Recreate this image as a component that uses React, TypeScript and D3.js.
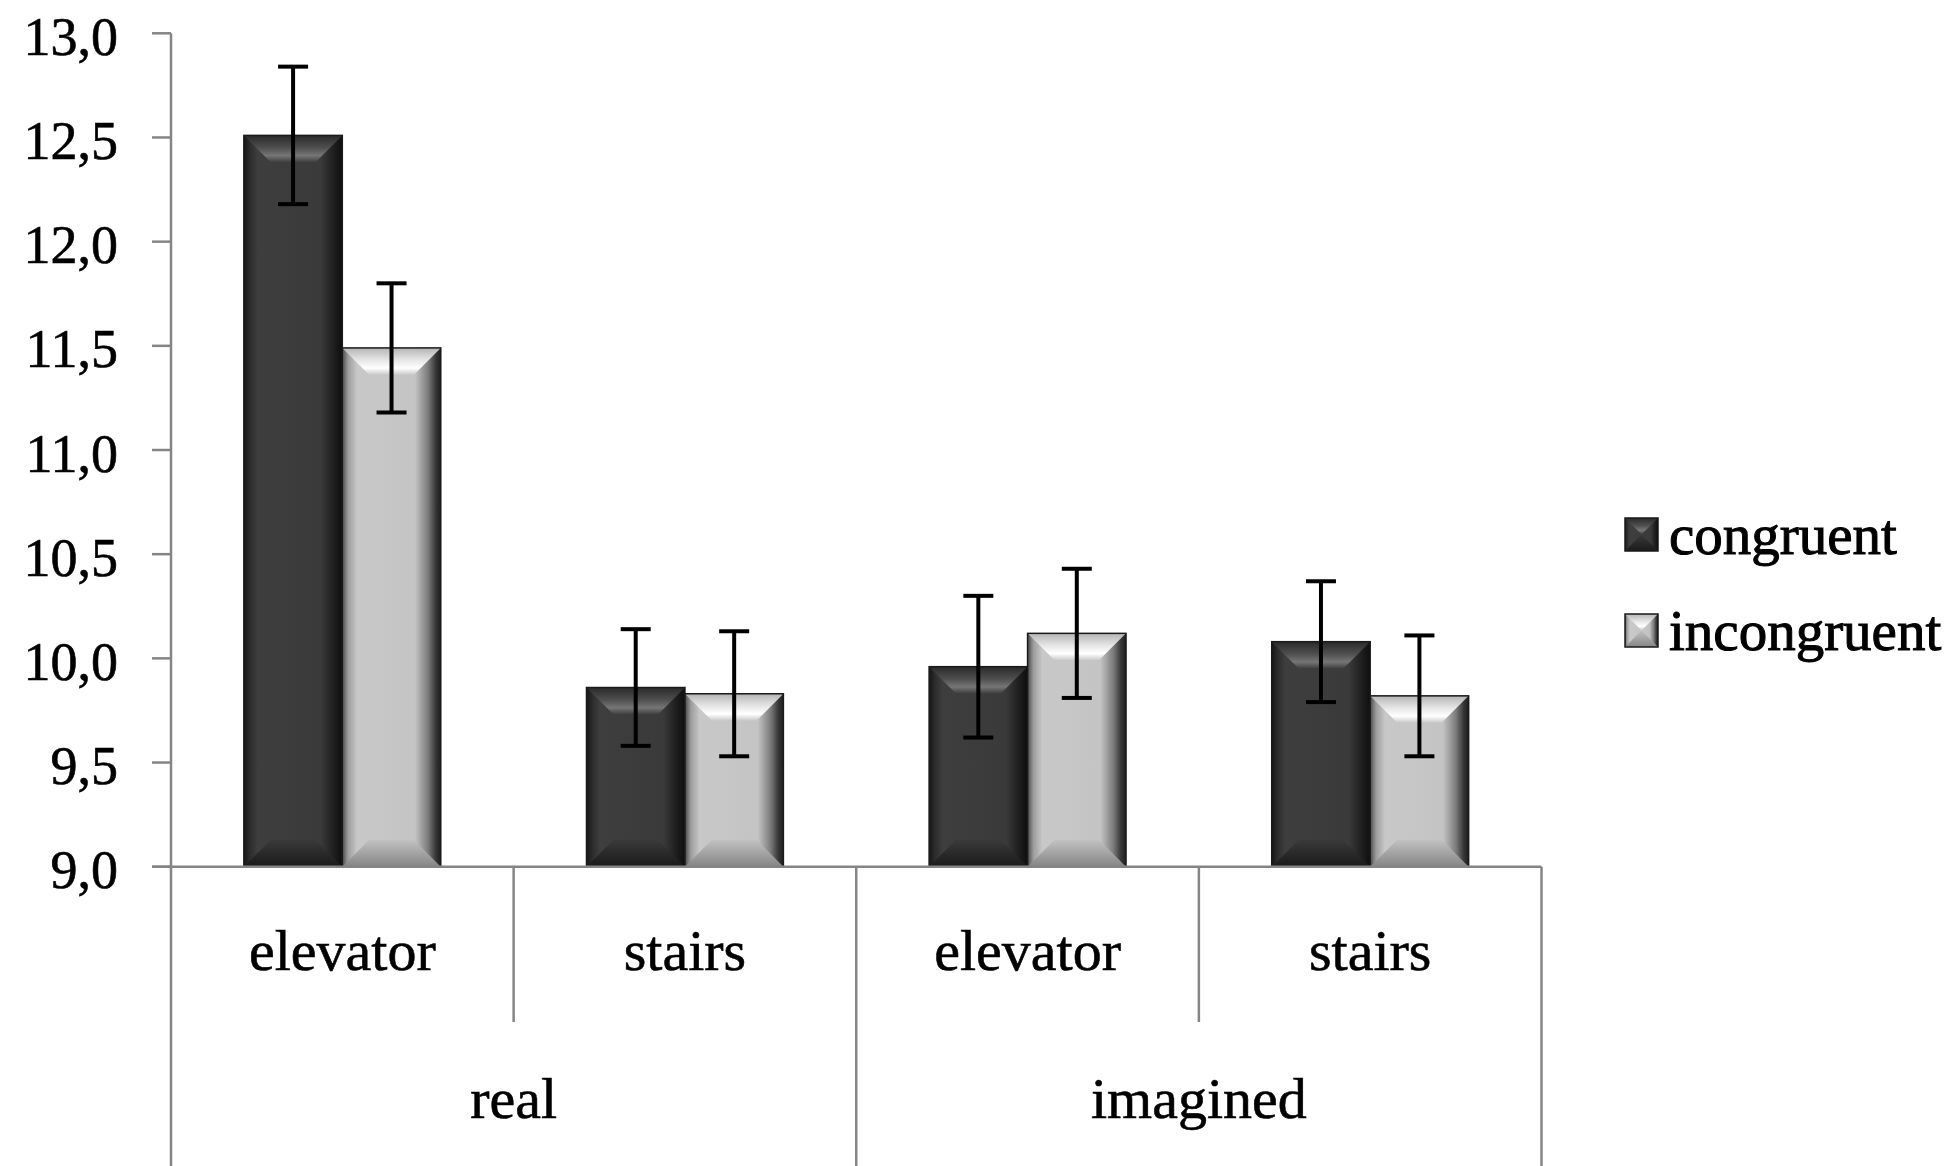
import React from "react";
import * as d3 from "d3";

const categories = ["elevator", "stairs", "elevator", "stairs"];
const groups = ["real", "imagined"];
const seriesNames = ["congruent", "incongruent"];
const congruentMeans = [12.51, 9.86, 9.96, 10.08];
const congruentErrors = [0.33, 0.28, 0.34, 0.29];
const incongruentMeans = [11.49, 9.83, 10.12, 9.82];
const incongruentErrors = [0.31, 0.3, 0.31, 0.29];
const yTicks = [9.0, 9.5, 10.0, 10.5, 11.0, 11.5, 12.0, 12.5, 13.0];

const W = 1954;
const H = 1166;
const FONT = "'Liberation Serif', 'Times New Roman', serif";

const series = [
  { name: seriesNames[0], kind: "dark", means: congruentMeans, errs: congruentErrors },
  { name: seriesNames[1], kind: "light", means: incongruentMeans, errs: incongruentErrors },
];

function Bar({ x, y, w, h, kind }) {
  const b = Math.min(27, h / 2);
  const top = `${x},${y} ${x + w},${y} ${x + w - b},${y + b} ${x + b},${y + b}`;
  const bot = `${x},${y + h} ${x + w},${y + h} ${x + w - b},${y + h - b} ${x + b},${y + h - b}`;
  return (
    <g>
      <rect x={x} y={y} width={w} height={h} fill={`url(#${kind}-h)`} />
      <polygon points={top} fill={`url(#${kind}-top)`} />
      <polygon points={bot} fill={`url(#${kind}-bot)`} />
      <rect x={x} y={y} width={w} height={h} fill="none" stroke="#1a1a1a" strokeWidth={1.5} />
    </g>
  );
}

export default function App() {
  const x0 = 171;
  const x1 = 1541.5;
  const yBase = 866.7;
  const yTop = 33.3;

  const y = d3.scaleLinear().domain([9, 13]).range([yBase, yTop]);
  const xCat = d3
    .scaleBand()
    .domain(d3.range(categories.length).map(String))
    .range([x0, x1])
    .paddingInner(0)
    .paddingOuter(0);
  const xSer = d3
    .scaleBand()
    .domain(seriesNames)
    .range([0, xCat.bandwidth()])
    .paddingInner(0)
    .paddingOuter(0.74);
  const xGroup = d3.scaleBand().domain(groups).range([x0, x1]);

  const fmt = (v) => v.toFixed(1).replace(".", ",");
  const axisColor = "#858585";
  const textStroke = { stroke: "#000", strokeWidth: 0.6 };

  return (
    <svg
      width={W}
      height={H}
      style={{ position: "absolute", left: 0, top: 0, background: "#fff", display: "block" }}
      fontFamily={FONT}
    >
      <defs>
        <linearGradient id="dark-h" x1="0" x2="1" y1="0" y2="0">
          <stop offset="0" stopColor="#151515" />
          <stop offset="0.06" stopColor="#2c2c2c" />
          <stop offset="0.14" stopColor="#3e3e3e" />
          <stop offset="0.78" stopColor="#3a3a3a" />
          <stop offset="0.9" stopColor="#212121" />
          <stop offset="1" stopColor="#0e0e0e" />
        </linearGradient>
        <linearGradient id="dark-top" x1="0" x2="0" y1="0" y2="1">
          <stop offset="0" stopColor="#2a2a2a" />
          <stop offset="0.45" stopColor="#4e4e4e" />
          <stop offset="0.75" stopColor="#767676" />
          <stop offset="1" stopColor="#3d3d3d" />
        </linearGradient>
        <linearGradient id="dark-bot" x1="0" x2="0" y1="0" y2="1">
          <stop offset="0" stopColor="#3a3a3a" />
          <stop offset="1" stopColor="#1a1a1a" />
        </linearGradient>
        <linearGradient id="light-h" x1="0" x2="1" y1="0" y2="0">
          <stop offset="0" stopColor="#4a4a4a" />
          <stop offset="0.06" stopColor="#9c9c9c" />
          <stop offset="0.15" stopColor="#c8c8c8" />
          <stop offset="0.74" stopColor="#c4c4c4" />
          <stop offset="0.87" stopColor="#7c7c7c" />
          <stop offset="0.95" stopColor="#363636" />
          <stop offset="1" stopColor="#1e1e1e" />
        </linearGradient>
        <linearGradient id="light-top" x1="0" x2="0" y1="0" y2="1">
          <stop offset="0" stopColor="#b4b4b4" />
          <stop offset="0.45" stopColor="#e6e6e6" />
          <stop offset="0.75" stopColor="#ffffff" />
          <stop offset="1" stopColor="#c8c8c8" />
        </linearGradient>
        <linearGradient id="light-bot" x1="0" x2="0" y1="0" y2="1">
          <stop offset="0" stopColor="#c2c2c2" />
          <stop offset="1" stopColor="#858585" />
        </linearGradient>
      </defs>

      {/* bars */}
      {series.map((s) =>
        s.means.map((m, i) => {
          const bx = xCat(String(i)) + xSer(s.name);
          const bw = xSer.bandwidth();
          const by = y(m);
          return (
            <Bar key={s.name + i} x={bx} y={by} w={bw} h={yBase - by} kind={s.kind} />
          );
        })
      )}

      {/* error bars */}
      {series.map((s) =>
        s.means.map((m, i) => {
          const cx = xCat(String(i)) + xSer(s.name) + xSer.bandwidth() / 2;
          const yHi = y(m + s.errs[i]);
          const yLo = y(m - s.errs[i]);
          const cap = 15;
          return (
            <g key={"e" + s.name + i} stroke="#000" strokeWidth={4}>
              <line x1={cx} x2={cx} y1={yHi} y2={yLo} />
              <line x1={cx - cap} x2={cx + cap} y1={yHi} y2={yHi} />
              <line x1={cx - cap} x2={cx + cap} y1={yLo} y2={yLo} />
            </g>
          );
        })
      )}

      {/* y axis */}
      <line x1={x0} x2={x0} y1={yTop} y2={H} stroke={axisColor} strokeWidth={2.5} />
      {yTicks.map((t) => (
        <g key={t}>
          <line x1={x0 - 19} x2={x0} y1={y(t)} y2={y(t)} stroke={axisColor} strokeWidth={2.5} />
          <text
            x={118}
            y={y(t) + 21.5}
            textAnchor="end"
            fontSize={54}
            fill="#000"
            {...textStroke}
          >
            {fmt(t)}
          </text>
        </g>
      ))}

      {/* x axis and category table */}
      <line x1={x0 - 19} x2={x1} y1={yBase} y2={yBase} stroke={axisColor} strokeWidth={2.5} />
      {categories.map((c, i) => {
        const left = xCat(String(i));
        const right = left + xCat.bandwidth();
        const isGroupEnd = (i + 1) % 2 === 0;
        return (
          <g key={"c" + i}>
            <line
              x1={right}
              x2={right}
              y1={yBase}
              y2={isGroupEnd ? H : 1022}
              stroke={axisColor}
              strokeWidth={2.5}
            />
            <text
              x={left + xCat.bandwidth() / 2}
              y={970}
              textAnchor="middle"
              fontSize={58}
              fill="#000"
              {...textStroke}
            >
              {c}
            </text>
          </g>
        );
      })}
      {groups.map((g) => (
        <text
          key={g}
          x={xGroup(g) + xGroup.bandwidth() / 2}
          y={1118}
          textAnchor="middle"
          fontSize={58}
          fill="#000"
          {...textStroke}
        >
          {g}
        </text>
      ))}

      {/* legend */}
      {series.map((s, i) => {
        const ly = 518 + i * 96;
        return (
          <g key={"l" + s.name}>
            <Bar x={1625} y={ly} w={33} h={33} kind={s.kind} />
            <text x={1669} y={ly + 36} fontSize={57} fill="#000" stroke="#000" strokeWidth={1}>
              {s.name}
            </text>
          </g>
        );
      })}
    </svg>
  );
}
